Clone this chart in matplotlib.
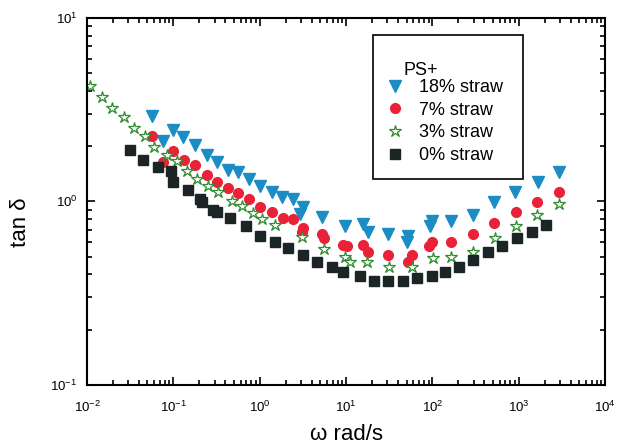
import matplotlib
matplotlib.use('Agg')
import matplotlib.pyplot as plt
from matplotlib.patches import Rectangle

plt.rcParams['font.family'] = ['Liberation Sans', 'DejaVu Sans']
plt.rcParams['mathtext.default'] = 'regular'

# tan delta vs frequency
w18 = [0.0567, 0.076, 0.0993, 0.129, 0.178, 0.245, 0.321, 0.430, 0.562, 0.753,
       1.01, 1.39, 1.82, 2.44, 2.94, 3.18, 5.28, 9.77, 15.8, 18.0,
       30.8, 52.5, 51.1, 94.3, 99.5, 165, 297, 520, 912, 1683, 2944]
t18 = [2.91, 2.12, 2.44, 2.23, 2.02, 1.80, 1.63, 1.49, 1.44, 1.32,
       1.21, 1.13, 1.05, 1.03, 0.85, 0.93, 0.82, 0.73, 0.75, 0.68,
       0.66, 0.65, 0.60, 0.73, 0.78, 0.78, 0.84, 0.99, 1.12, 1.28, 1.44]

w7 = [0.0567, 0.076, 0.0993, 0.133, 0.178, 0.245, 0.321, 0.430, 0.562, 0.753,
      1.01, 1.39, 1.87, 2.44, 3.18, 3.10, 5.28, 5.57, 9.25, 10.3,
      15.8, 18.0, 30.8, 58.3, 52.5, 99.5, 91.8, 165, 297, 520, 935, 1637, 2944]
t7 = [2.26, 1.63, 1.87, 1.67, 1.57, 1.40, 1.28, 1.18, 1.11, 1.03,
      0.93, 0.88, 0.81, 0.80, 0.72, 0.68, 0.66, 0.63, 0.58, 0.57,
      0.58, 0.53, 0.51, 0.51, 0.47, 0.60, 0.57, 0.60, 0.66, 0.76, 0.87, 0.99, 1.12]

w3 = [0.0108, 0.0149, 0.0195, 0.0268, 0.0351, 0.047, 0.0597, 0.0846, 0.110, 0.144,
      0.188, 0.252, 0.330, 0.479, 0.625, 0.839, 1.07, 1.51, 3.10, 5.57,
      9.77, 11.1, 17.5, 31.6, 58.3, 102, 165, 297, 535, 935, 1637, 2944]
t3 = [4.23, 3.69, 3.21, 2.87, 2.50, 2.26, 1.99, 1.78, 1.65, 1.46,
      1.33, 1.21, 1.12, 1.01, 0.94, 0.86, 0.80, 0.74, 0.64, 0.55,
      0.50, 0.47, 0.47, 0.44, 0.44, 0.49, 0.50, 0.53, 0.63, 0.73, 0.84, 0.97]

w0 = [0.0315, 0.0446, 0.0665, 0.094, 0.0993, 0.148, 0.204, 0.215, 0.288, 0.321,
      0.454, 0.695, 1.01, 1.51, 2.13, 3.18, 4.62, 6.90, 9.25, 14.5,
      21.2, 30.8, 45.9, 66.7, 99.5, 141, 205, 297, 444, 644, 961, 1432, 2084]
t0 = [1.90, 1.69, 1.53, 1.46, 1.28, 1.16, 1.03, 0.99, 0.90, 0.88,
      0.81, 0.73, 0.65, 0.60, 0.56, 0.51, 0.47, 0.44, 0.41, 0.39,
      0.37, 0.37, 0.37, 0.38, 0.39, 0.41, 0.44, 0.48, 0.53, 0.57, 0.63, 0.68, 0.74]

fig = plt.figure(figsize=(6.22, 4.46), dpi=100)
ax = fig.add_axes([0.14, 0.137, 0.833, 0.823])

ax.plot(w18, t18, 'v', ls='none', color='#1b8dc4', ms=8.5, mec='#1b8dc4', label='18% straw')
ax.plot(w7, t7, 'o', ls='none', color='#ea2237', ms=7, mec='#ea2237', label='7% straw')
ax.plot(w3, t3, '*', ls='none', mfc='white', mec='#2e8b2e', mew=0.9, ms=9, label='3% straw')
ax.plot(w0, t0, 's', ls='none', color='#1c2526', ms=7, label='0% straw')

ax.set_xscale('log')
ax.set_yscale('log')
ax.set_xlim(1e-2, 1e4)
ax.set_ylim(1e-1, 1e1)

for s in ax.spines.values():
    s.set_linewidth(1.5)
ax.tick_params(which='both', direction='in', top=True, right=True, width=1.2)
ax.tick_params(which='major', length=6, labelsize=9.5)
ax.tick_params(which='minor', length=3.5)
ax.tick_params(axis='x', which='major', pad=10.5)
ax.tick_params(axis='y', which='major', pad=7)

ax.set_xlabel('ω rad/s', fontsize=16, labelpad=7)
ax.set_ylabel('tan δ', fontsize=16)
ax.yaxis.set_label_coords(-0.108, 0.444)

# legend box drawn by hand so the "PS+" heading can sit close to the rows
ax.add_patch(Rectangle((0.552, 0.561), 0.29, 0.393, transform=ax.transAxes,
                       fill=False, edgecolor='black', linewidth=1.2, zorder=5))
ax.text(0.610, 0.857, 'PS+', transform=ax.transAxes, fontsize=13,
        ha='left', va='center', zorder=6)
leg = ax.legend(loc='upper left', bbox_to_anchor=(0.577, 0.833),
                fontsize=13, frameon=False, borderpad=0, borderaxespad=0,
                labelspacing=0.31, handletextpad=0.8, handlelength=1.0)

fig.savefig('out.png', dpi=100)
